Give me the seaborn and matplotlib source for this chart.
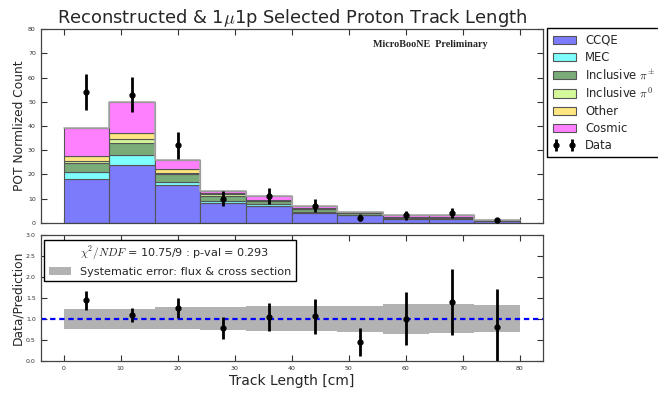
import numpy as np
import pandas as pd
import matplotlib
matplotlib.use("Agg")
import matplotlib.pyplot as plt
from matplotlib.patches import Patch
from matplotlib.lines import Line2D
import seaborn as sns

# ---- binning (track length, cm) ----
bin_edges = [0, 8, 16, 24, 32, 40, 48, 56, 64, 72, 80]

# ---- predicted, POT normalised, per category ----
categories = ["CCQE", "MEC", r"Inclusive $\pi^{\pm}$", r"Inclusive $\pi^0$", "Other", "Cosmic"]
ccqe = [18.0, 24.0, 15.5, 8.3, 7.0, 4.2, 3.0, 1.5, 1.5, 0.7]
mec = [3.0, 4.0, 1.5, 0.7, 0.6, 0.4, 0.3, 0.2, 0.2, 0.1]
pi_charged = [3.7, 5.0, 3.2, 2.2, 1.2, 1.0, 0.8, 0.4, 0.4, 0.25]
pi_neutral = [0.7, 1.5, 0.5, 0.5, 0.3, 0.2, 0.2, 0.1, 0.1, 0.05]
other = [2.1, 2.5, 1.6, 0.7, 0.3, 0.3, 0.2, 0.1, 0.1, 0.05]
cosmic = [11.7, 13.0, 3.8, 0.6, 1.5, 0.6, 0.1, 0.8, 0.7, 0.1]
colors = ["#7b7bfb", "#7dfdfd", "#7aac7a", "#d4f89a", "#ffe680", "#ff80ff"]

# ---- observed data ----
data_counts = [54, 53, 32, 10, 11, 7, 2, 3, 4, 1]

# ---- data / prediction ----
ratio = [1.44, 1.10, 1.26, 0.78, 1.05, 1.06, 0.45, 1.01, 1.40, 0.82]
ratio_err = [0.22, 0.17, 0.24, 0.26, 0.33, 0.42, 0.33, 0.62, 0.78, 0.90]
syst_lo = [0.77, 0.77, 0.75, 0.73, 0.71, 0.71, 0.70, 0.65, 0.66, 0.68]
syst_hi = [1.24, 1.24, 1.28, 1.29, 1.30, 1.32, 1.32, 1.36, 1.35, 1.33]

chi2_label = r"$\chi^2/NDF$ = 10.75/9 : p-val = 0.293"

sns.set_style("ticks")
plt.rcParams.update({
    "font.family": ["DejaVu Sans"],
    "mathtext.fontset": "cm",
    "xtick.direction": "in",
    "ytick.direction": "in",
    "xtick.top": True,
    "ytick.right": True,
    "xtick.major.size": 4,
    "ytick.major.size": 4,
    "xtick.labelsize": 4.5,
    "ytick.labelsize": 4.5,
    "xtick.color": "#333333",
    "ytick.color": "#333333",
    "axes.edgecolor": "#444444",
    "axes.linewidth": 0.9,
})

edges = np.array(bin_edges, dtype=float)
centers = 0.5 * (edges[:-1] + edges[1:])
width = edges[1] - edges[0]

fig = plt.figure(figsize=(6.58, 3.94), dpi=100)
ax_top = fig.add_axes([0.0619, 0.4348, 0.763, 0.491])
ax_bot = fig.add_axes([0.0619, 0.0838, 0.763, 0.320])

# ---- stacked prediction ----
series = [ccqe, mec, pi_charged, pi_neutral, other, cosmic]
rows = []
for name, vals in zip(categories, series):
    for c, v in zip(centers, vals):
        rows.append({"length": c, "count": v, "category": name})
df = pd.DataFrame(rows)

# seaborn stacks the last hue level at the bottom
order = categories[::-1]
palette = dict(zip(categories, colors))
sns.histplot(data=df, x="length", weights="count", hue="category",
             hue_order=order, palette=palette, multiple="stack",
             binwidth=width, binrange=(edges[0], edges[-1]),
             alpha=1.0, edgecolor="#555555", linewidth=0.8,
             legend=False, ax=ax_top)

totals = np.sum(np.array(series), axis=0)
ax_top.step(edges, np.append(totals, totals[-1]), where="post",
            color="#aaaaaa", lw=1.2, zorder=3)

data_arr = np.array(data_counts, dtype=float)
eb = ax_top.errorbar(centers, data_arr, yerr=np.sqrt(data_arr), fmt="o",
                     color="black", ms=3.5, elinewidth=2, capsize=0, zorder=5)

ax_top.set_xlim(-4, 84)
ax_top.set_ylim(0, 80)
ax_top.set_yticks(np.arange(0, 81, 10))
ax_top.set_xticks(np.arange(0, 81, 10))
ax_top.tick_params(labelbottom=False)
ax_top.set_xlabel("")
ax_top.set_ylabel("POT Normlized Count", fontsize=8.8, labelpad=1.5)
ax_top.set_title(r"Reconstructed & 1$\mu$1p Selected Proton Track Length",
                 fontsize=12.9, pad=4)
ax_top.text(64.3, 73.6, "MicroBooNE  Preliminary", ha="center", va="center",
            fontsize=7.3, fontweight="bold", family="Liberation Serif")

handles = [Patch(facecolor=c, edgecolor="#555555", lw=0.8) for c in colors]
handles.append(eb)
labels = list(categories) + ["Data"]
ax_top.legend(handles, labels, loc="upper left", bbox_to_anchor=(1.009, 1.004),
              borderaxespad=0, fontsize=8.4, numpoints=2, labelspacing=0.36,
              borderpad=0.45, fancybox=False, edgecolor="black", framealpha=1)

# ---- ratio panel ----
lo = np.array(syst_lo)
hi = np.array(syst_hi)
ax_bot.bar(centers, hi - lo, bottom=lo, width=width, color="gray",
           alpha=0.6, lw=0, zorder=1)
ax_bot.axhline(1.0, color="blue", ls="--", lw=1.6, dashes=(2.4, 1.7), zorder=2)
ax_bot.errorbar(centers, ratio, yerr=ratio_err, fmt="o", color="black",
                ms=3.5, elinewidth=2, capsize=0, zorder=5)
ax_bot.set_xlim(-4, 84)
ax_bot.set_ylim(0, 3)
ax_bot.set_yticks(np.arange(0, 3.01, 0.5))
ax_bot.set_yticklabels([f"{v:.1f}" for v in np.arange(0, 3.01, 0.5)])
ax_bot.set_xticks(np.arange(0, 81, 10))
ax_bot.set_xlabel("Track Length [cm]", fontsize=10, labelpad=2)
ax_bot.set_ylabel("Data/Prediction", fontsize=8.8, labelpad=1.5)

bot_handles = [Line2D([], [], ls="none"),
               Patch(facecolor="gray", alpha=0.6, lw=0)]
bot_labels = [chi2_label, "Systematic error: flux & cross section"]
ax_bot.legend(bot_handles, bot_labels, loc="upper left",
              bbox_to_anchor=(0.007, 0.96), borderaxespad=0, fontsize=8.15,
              fancybox=False, edgecolor="black", framealpha=1,
              labelspacing=0.4)

fig.align_ylabels([ax_top, ax_bot])
fig.savefig("out.png", dpi=100)
